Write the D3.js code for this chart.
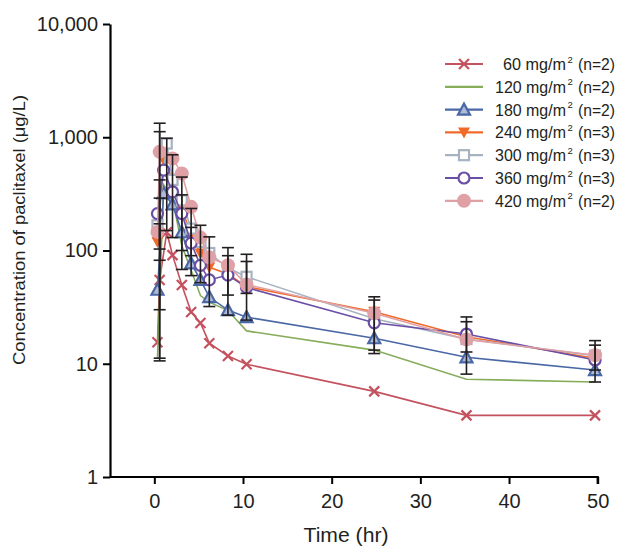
<!DOCTYPE html>
<html>
<head>
<meta charset="utf-8">
<script src="https://cdn.jsdelivr.net/npm/d3@7"></script>
<style>
  body { margin: 0; background: #fff; }
  svg text { font-family: 'Liberation Sans', Arial, sans-serif; fill: #231f20; }
</style>
</head>
<body>
<svg id="chart" width="627" height="551"></svg>
<script>
// sampling times (hr), as placed on the time axis
const times = [0.35, 0.6, 1.05, 1.4, 2.05, 3.1, 4.15, 5.2, 6.2, 8.3, 10.4, 24.8, 35.2, 49.7];

// mean concentration (ug/L) per dose group, null = no sample
const dose60  = [15.5, 55, null, 145, 91, 49.5, 28.6, 22.9, 15.2, 11.7, 9.9, 5.7, 3.5, 3.5];
const dose120 = [11, null, 380, null, 290, 110, 67, 40, 35, 29.5, 19.5, 13.2, 7.3, 6.9];
const dose180 = [45, null, 320, null, 255, 145, 77, 55, 38.8, 29.8, 25.8, 16.8, 11.4, 8.8];
const dose240 = [119, null, 628, null, 430, 230, 140, 94, 71, 62, 48, 28.8, 17.3, 11.2];
const dose300 = [167, null, null, 880, 420, 277, 156, 119, 95, 70, 58.6, 25, 16.5, 11.8];
const dose360 = [212, null, 512, null, 330, 212, 116, 74, 55, 60.7, 47, 23, 18.3, 10.8];
const dose420 = [146, 743, null, null, 650, 479, 243, 130, 87, 74, 50, 27.9, 16.4, 11.9];

const doseLabels = ["60", "120", "180", "240", "300", "360", "420"];
const groupN = [2, 2, 2, 3, 3, 3, 2];

// error bars: [time, low, high]
const errorBars = [
  [0.6, 10.6, 1330], [0.6, 11.2, 1120], [0.6, 30, 420], [0.6, 82, 290], [0.6, 103, 172],
  [1.4, 150, 980], [2.05, 130, 700], [3.1, 68, 445], [3.1, 100, 310],
  [4.15, 60, 235], [4.15, 90, 160], [5.2, 52, 167], [6.2, 32, 132],
  [8.3, 26.8, 106], [8.3, 40.4, 90], [10.4, 24.3, 92.6], [10.4, 41.8, 80],
  [24.8, 12.3, 39], [24.8, 13.2, 36.5], [35.2, 8.1, 25.9], [35.2, 12.7, 23.5],
  [49.7, 6.9, 16], [49.7, 8.8, 14.6]
];

const xTicks = [0, 10, 20, 30, 40, 50];
const yTicks = [1, 10, 100, 1000, 10000];

const seriesStyle = [
  { color: "#c4525e", marker: "cross" },
  { color: "#86ad5a", marker: "none" },
  { color: "#4a68a6", marker: "triangle" },
  { color: "#f26a2a", marker: "triangleDown" },
  { color: "#a8b3c1", marker: "square" },
  { color: "#6b4fa6", marker: "circle" },
  { color: "#e0a1a6", marker: "dot" }
];
const allSeries = [dose60, dose120, dose180, dose240, dose300, dose360, dose420];

const svg = d3.select("#chart");
const x = d3.scaleLinear().domain([-5, 50]).range([110, 597.7]);
const y = d3.scaleLog().domain([1, 10000]).range([477, 24]);

// axes
svg.append("g")
  .attr("transform", "translate(0,477)")
  .call(d3.axisBottom(x).tickValues(xTicks).tickSize(7).tickSizeOuter(0).tickPadding(10))
  .call(g => g.select(".domain").attr("stroke-width", 2.2).attr("d", "M110,0H597.7V7"))
  .call(g => g.selectAll(".tick line").attr("stroke-width", 2))
  .call(g => g.selectAll(".tick text").style("font-size", "20px").style("font-family", "'Liberation Sans', Arial, sans-serif"));

svg.append("g")
  .attr("transform", "translate(110,0)")
  .call(d3.axisLeft(y).tickValues(yTicks).tickFormat(d3.format(",")).tickSize(7).tickSizeOuter(0).tickPadding(5))
  .call(g => g.select(".domain").attr("stroke-width", 2.2))
  .call(g => g.selectAll(".tick line").attr("stroke-width", 2))
  .call(g => g.selectAll(".tick text").style("font-size", "20px").style("font-family", "'Liberation Sans', Arial, sans-serif"));

svg.append("text")
  .attr("x", 346).attr("y", 542)
  .attr("text-anchor", "middle")
  .attr("textLength", 85).attr("lengthAdjust", "spacingAndGlyphs")
  .style("font-size", "20px")
  .text("Time (hr)");

svg.append("text")
  .attr("transform", "translate(25,230) rotate(-90)")
  .attr("text-anchor", "middle")
  .attr("textLength", 270).attr("lengthAdjust", "spacingAndGlyphs")
  .style("font-size", "17px")
  .text("Concentration of paclitaxel (μg/L)");

function drawMarker(g, type, color, cx, cy) {
  if (type === "cross") {
    g.append("path").attr("d", `M${cx-5},${cy-5}L${cx+5},${cy+5}M${cx-5},${cy+5}L${cx+5},${cy-5}`)
      .attr("stroke", color).attr("stroke-width", 2.2);
  } else if (type === "triangle") {
    g.append("path").attr("d", `M${cx},${cy-6}L${cx+6},${cy+5}L${cx-6},${cy+5}Z`)
      .attr("fill", "#aebbd8").attr("stroke", color).attr("stroke-width", 2.2);
  } else if (type === "triangleDown") {
    g.append("path").attr("d", `M${cx-6},${cy-5}L${cx+6},${cy-5}L${cx},${cy+6}Z`)
      .attr("fill", color);
  } else if (type === "square") {
    g.append("rect").attr("x", cx-5).attr("y", cy-5).attr("width", 10).attr("height", 10)
      .attr("fill", "#fff").attr("stroke", color).attr("stroke-width", 2.2);
  } else if (type === "circle") {
    g.append("circle").attr("cx", cx).attr("cy", cy).attr("r", 5.5)
      .attr("fill", "#fff").attr("stroke", color).attr("stroke-width", 2.2);
  } else if (type === "dot") {
    g.append("circle").attr("cx", cx).attr("cy", cy).attr("r", 7)
      .attr("fill", color);
  }
}

const line = d3.line()
  .defined(d => d[1] != null)
  .x(d => x(d[0]))
  .y(d => y(d[1]));

allSeries.forEach((vals, i) => {
  const st = seriesStyle[i];
  const pts = times.map((t, j) => [t, vals[j]]).filter(d => d[1] != null);
  const g = svg.append("g");
  g.append("path").datum(pts)
    .attr("d", line)
    .attr("fill", "none")
    .attr("stroke", st.color)
    .attr("stroke-width", 1.6);
  pts.forEach(d => drawMarker(g, st.marker, st.color, x(d[0]), y(d[1])));
});

// error bars on top
const eb = svg.append("g").attr("stroke", "#231f20").attr("stroke-width", 1.6);
errorBars.forEach(([t, lo, hi]) => {
  const cx = x(t);
  eb.append("line").attr("x1", cx).attr("x2", cx).attr("y1", y(lo)).attr("y2", y(hi));
  eb.append("line").attr("x1", cx - 6).attr("x2", cx + 6).attr("y1", y(lo)).attr("y2", y(lo));
  eb.append("line").attr("x1", cx - 6).attr("x2", cx + 6).attr("y1", y(hi)).attr("y2", y(hi));
});

// legend: label, superscript and group size as separate pieces
const legend = svg.append("g");
doseLabels.forEach((lab, i) => {
  const ly = 64 + i * 22.8;
  const st = seriesStyle[i];
  legend.append("line").attr("x1", 445).attr("x2", 483).attr("y1", ly).attr("y2", ly)
    .attr("stroke", st.color).attr("stroke-width", 2.2);
  drawMarker(legend, st.marker, st.color, 464, ly);
  const short = lab.length === 2;
  legend.append("text")
    .attr("x", short ? 503 : 495).attr("y", ly + 6)
    .attr("textLength", short ? 63 : 71).attr("lengthAdjust", "spacingAndGlyphs")
    .style("font-size", "16.5px")
    .text(`${lab} mg/m`);
  legend.append("text")
    .attr("x", 567.5).attr("y", ly - 1.5)
    .style("font-size", "9.5px")
    .text("2");
  legend.append("text")
    .attr("x", 578).attr("y", ly + 6)
    .attr("textLength", 37).attr("lengthAdjust", "spacingAndGlyphs")
    .style("font-size", "16.5px")
    .text(`(n=${groupN[i]})`);
});
</script>
</body>
</html>
